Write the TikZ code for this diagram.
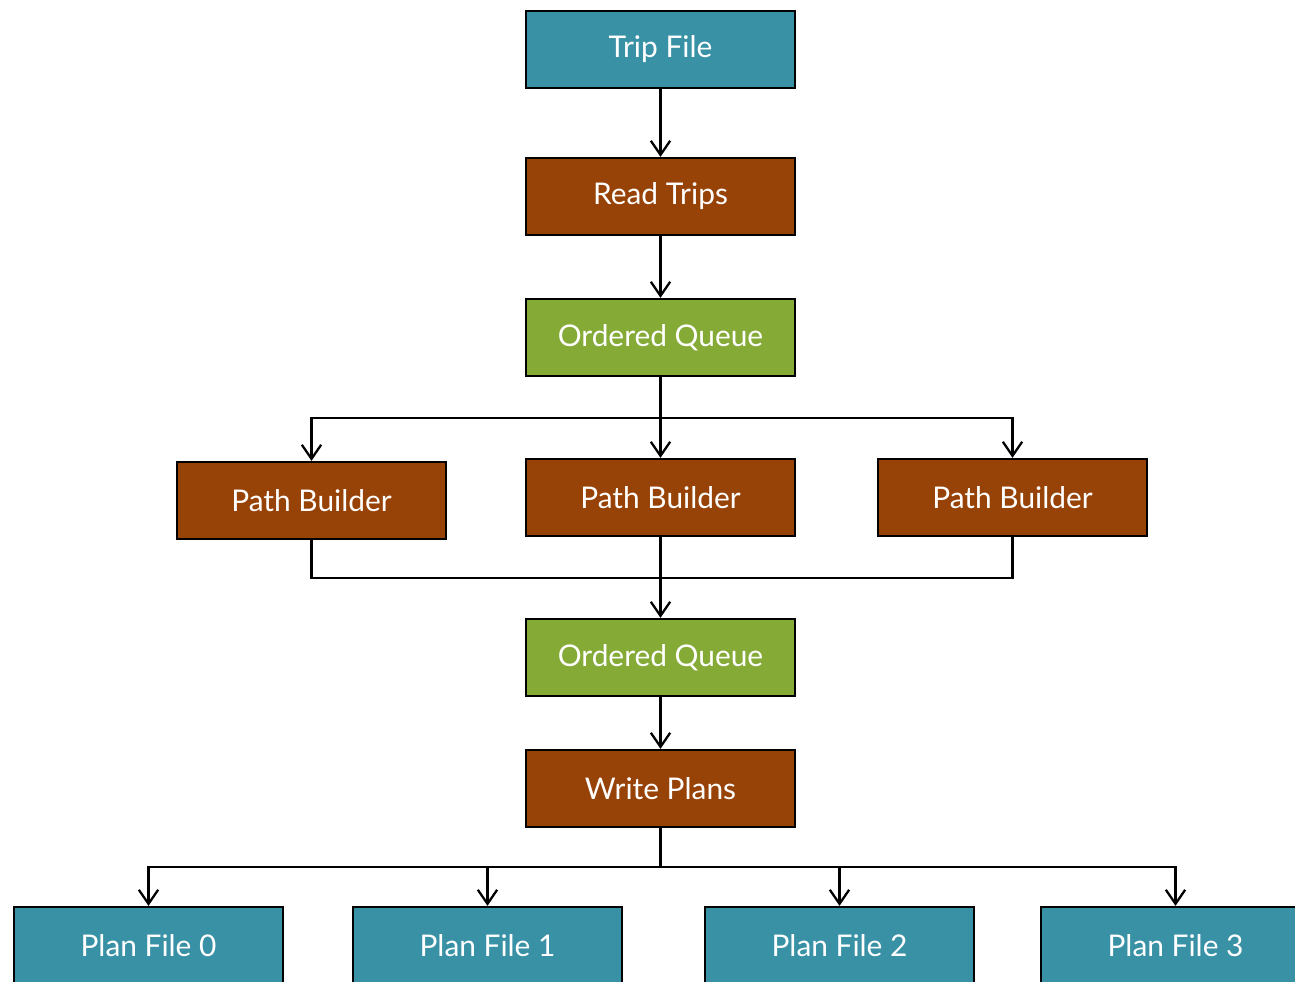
\documentclass[tikz,border=0pt]{standalone}
\usepackage{fontspec}
\setmainfont{Lato}
\usetikzlibrary{arrows.meta,positioning}

\definecolor{filecol}{RGB}{57,145,166}
\definecolor{stagecol}{RGB}{151,66,6}
\definecolor{queuecol}{RGB}{133,171,54}

\begin{document}
\begin{tikzpicture}[
    x=0.02cm, y=-0.02cm,
    box/.style={draw=black, line width=1.3pt, minimum width=5.38cm, minimum height=1.54cm,
                text=white, font=\fontsize{17}{20}\selectfont, inner sep=0pt},
    file/.style={box, fill=filecol},
    stage/.style={box, fill=stagecol},
    queue/.style={box, fill=queuecol},
    arr/.style={-{Straight Barb[length=8pt, width=11pt, line width=1.3pt]}, line width=1.3pt},
]
\useasboundingbox (0,0) rectangle (1295,982);
\clip (0,0) rectangle (1295,982);

% Input and reader
\node[file] (trip) at (660.5,49.5) {Trip File};
\node[stage] (read) at (660.5,196.5) {Read Trips};
\node[queue] (oq1) at (660.5,337.5) {Ordered Queue};

% Path builders
\node[stage] (pbl) at (311.5,500.5) {Path Builder};
\node[stage] (pbm) at (660.5,497.5) {Path Builder};
\node[stage] (pbr) at (1012.5,497.5) {Path Builder};

% Output side
\node[queue] (oq2) at (660.5,657.5) {Ordered Queue};
\node[stage] (write) at (660.5,788.5) {Write Plans};

\node[file] (pf0) at (148.5,945.5) {Plan File 0};
\node[file] (pf1) at (487.5,945.5) {Plan File 1};
\node[file] (pf2) at (839.5,945.5) {Plan File 2};
\node[file] (pf3) at (1175.5,945.5) {Plan File 3};

% Branch points
\coordinate (split) at (660.5,418);
\coordinate (merge) at (660.5,578);
\coordinate (fan) at (660.5,867);

\draw[arr] (trip) -- (read);
\draw[arr] (read) -- (oq1);
\draw[arr] (oq1) -- (pbm);
\draw[arr] (split) -| (pbl);
\draw[arr] (split) -| (pbr);

\draw[line width=1.3pt] (pbl) |- (merge);
\draw[line width=1.3pt] (pbr) |- (merge);
\draw[arr] (pbm) -- (oq2);
\draw[arr] (oq2) -- (write);

\draw[line width=1.3pt] (write) -- (fan);
\foreach \f in {pf0,pf1,pf2,pf3} {
    \draw[arr] (fan) -| (\f);
}
\end{tikzpicture}
\end{document}
